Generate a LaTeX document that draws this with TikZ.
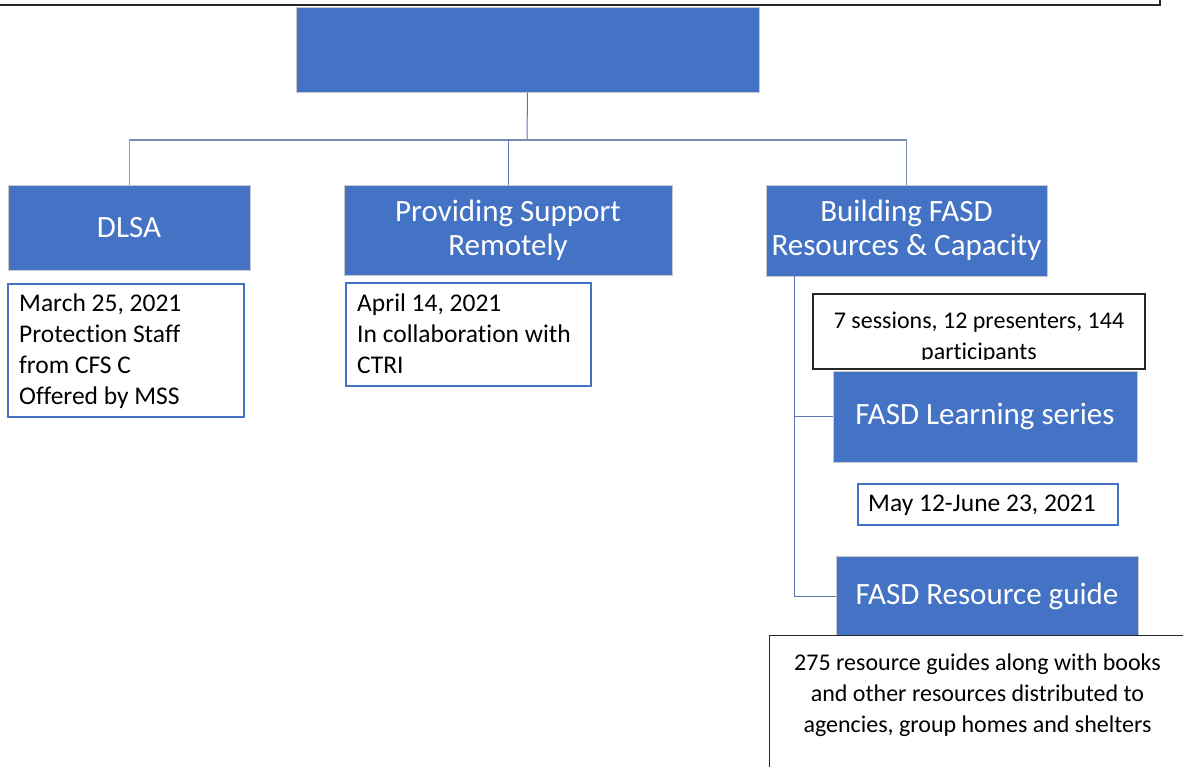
\documentclass[tikz,border=0pt]{standalone}
\usepackage{fontspec}
\setmainfont{Carlito}[Ligatures=NoCommon]
\definecolor{accent}{RGB}{68,114,196}
\definecolor{linkc}{RGB}{90,120,175}
\definecolor{busc}{RGB}{120,140,175}
\definecolor{edgec}{RGB}{200,200,205}
\tikzset{
  bluebox/.style={rectangle, fill=accent, draw=edgec, line width=1pt, inner sep=0pt, text=white, align=center, font=\fontsize{31}{34}\selectfont},
  datebox/.style={rectangle, fill=white, draw=accent, line width=1.5pt, inner sep=0pt},
  notebox/.style={rectangle, fill=white, draw=black!85, line width=1.3pt, inner sep=0pt},
  bodytext/.style={font=\fontsize{25.5}{31}\selectfont, inner sep=0pt},
  smalltext/.style={font=\fontsize{24}{31}\selectfont, inner sep=0pt, align=center},
  link/.style={draw=linkc, line width=1pt},
}
\begin{document}
\begin{tikzpicture}[x=1pt,y=-1pt]
\useasboundingbox (0,0) rectangle (1183,766);
% outer frame (cut off at the top)
\draw[black!85, line width=1.8pt] (-5,-20) rectangle (1160,5) coordinate (frame);
% top box
\node[bluebox, minimum width=463pt, minimum height=85pt] (top) at (527.5,49.5) {};
% level 1
\node[bluebox, minimum width=242pt, minimum height=85pt] (dlsa) at (129,227.5) {DLSA};
\node[bluebox, minimum width=328pt, minimum height=90pt] (support) at (508,230) {Providing Support\\Remotely};
\node[bluebox, minimum width=281pt, minimum height=91pt] (build) at (906.5,230.5) {Building FASD\\Resources \& Capacity};
% connectors
\coordinate (bus) at (527,139.5);
\draw[link] (top.south) -- (bus);
\draw[draw=busc, line width=2pt] (dlsa.north |- bus) -- (build.north |- bus);
\draw[link, draw=gray!80] (bus -| dlsa.north) -- (dlsa.north);
\draw[link] (bus -| support.north) -- (support.north);
\draw[link, draw=busc] (bus -| build.north) -- (build.north);
% date boxes
\node[datebox, minimum width=236pt, minimum height=133pt] (march) at (126,350.5) {};
\node[bodytext, anchor=north west, align=left] (marcht) at (19,294) {March 25, 2021\\Protection Staff\\from CFS C\\Offered by MSS};
\node[datebox, minimum width=245pt, minimum height=103pt] (april) at (468.5,334.5) {};
\node[bodytext, anchor=north west, align=left] (aprilt) at (357,294) {April 14, 2021\\In collaboration with\\CTRI};
% right branch
\coordinate (trunk) at (794,276);
\node[bluebox, minimum width=304pt, minimum height=91pt] (learning) at (985,416.5) {FASD Learning series};
\node[bluebox, minimum width=302pt, minimum height=80pt] (resource) at (987,596) {FASD Resource guide};
\draw[link] (trunk) |- (resource.west);
\draw[link] (trunk |- learning.west) -- (learning.west);
\node[notebox, minimum width=332pt, minimum height=75pt] (sessions) at (979,331.5) {};
\begin{scope}
\clip (813,294) rectangle (1145,359);
\node[smalltext, anchor=north] (sessionst) at (979,311.5) {7 sessions, 12 presenters, 144\\participants};
\end{scope}
\node[datebox, minimum width=260pt, minimum height=41pt] (may) at (988,504.5) {};
\node[bodytext] (mayt) at (982,505) {May 12-June 23, 2021};
\node[notebox, minimum width=440pt, minimum height=160pt, anchor=north west] (guides) at (769,635) {};
\node[smalltext, anchor=north] (guidest) at (977.5,654) {275 resource guides along with books\\and other resources distributed to\\agencies, group homes and shelters};
\end{tikzpicture}
\end{document}
